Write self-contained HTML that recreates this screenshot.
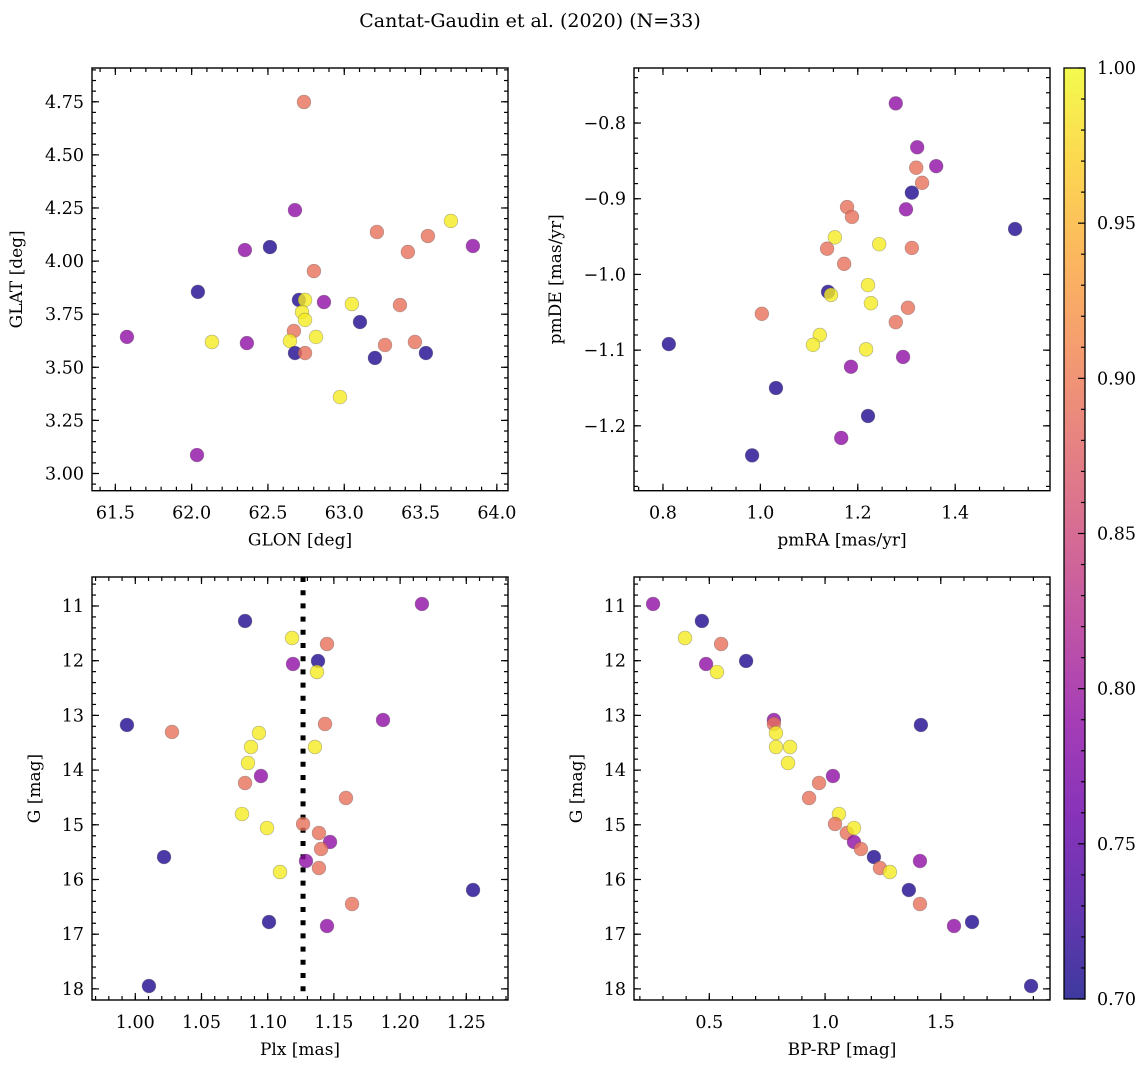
<!DOCTYPE html>
<html><head><meta charset="utf-8">
<style>
html,body{margin:0;padding:0;background:#fff;}
svg{display:block;font-family:"DejaVu Serif","Liberation Serif",serif;}
</style></head>
<body>
<svg id="fig" width="1148" height="1067" viewBox="0 0 1148 1067" xmlns="http://www.w3.org/2000/svg">
<defs>
<linearGradient id="plasma" x1="0" y1="1" x2="0" y2="0">
<stop offset="0" stop-color="#0d0887"/><stop offset="0.1" stop-color="#41049d"/><stop offset="0.2" stop-color="#6a00a8"/><stop offset="0.3" stop-color="#8f0da4"/><stop offset="0.4" stop-color="#b12a90"/><stop offset="0.5" stop-color="#cc4778"/><stop offset="0.6" stop-color="#e16462"/><stop offset="0.7" stop-color="#f2844b"/><stop offset="0.8" stop-color="#fca636"/><stop offset="0.9" stop-color="#fcce25"/><stop offset="1" stop-color="#f0f921"/>
</linearGradient>
</defs>
<text x="530" y="27" text-anchor="middle" font-size="19">Cantat-Gaudin et al. (2020) (N=33)</text>
</svg>
<script>
// ---- data ----
const glon = [61.576,62.035,62.041,62.133,62.349,62.362,62.513,62.677,62.736,62.703,62.743,62.723,62.743,62.670,62.644,62.677,62.743,62.801,62.815,62.867,62.972,63.050,63.103,63.214,63.267,63.201,63.365,63.417,63.548,63.535,63.463,63.699,63.843];
const glat = [3.643,3.087,3.855,3.619,4.052,3.614,4.066,4.240,4.749,3.817,3.817,3.760,3.723,3.671,3.624,3.567,3.567,3.953,3.643,3.807,3.360,3.798,3.713,4.137,3.605,3.544,3.793,4.043,4.118,3.567,3.619,4.189,4.071];
const prob1 = [0.79,0.79,0.71,0.99,0.79,0.79,0.71,0.79,0.89,0.71,0.99,0.99,0.99,0.89,0.99,0.71,0.89,0.89,0.99,0.79,0.99,0.99,0.71,0.89,0.89,0.71,0.89,0.89,0.89,0.71,0.89,0.99,0.79];

const pmra = [1.278,1.322,1.361,1.320,1.332,1.311,1.299,1.178,1.188,1.523,1.153,1.244,1.311,1.137,1.172,1.221,1.139,1.145,1.227,1.303,1.003,1.278,1.122,1.108,0.812,1.217,1.293,1.186,1.032,1.221,1.166,0.983];
const pmde = [-0.774,-0.832,-0.857,-0.859,-0.879,-0.892,-0.914,-0.911,-0.924,-0.940,-0.951,-0.960,-0.965,-0.966,-0.986,-1.014,-1.023,-1.027,-1.038,-1.044,-1.052,-1.063,-1.080,-1.093,-1.092,-1.099,-1.109,-1.122,-1.150,-1.187,-1.216,-1.239];
const prob2 = [0.79,0.79,0.79,0.89,0.89,0.71,0.79,0.89,0.89,0.71,0.99,0.99,0.89,0.89,0.89,0.99,0.71,0.99,0.99,0.89,0.89,0.89,0.99,0.99,0.71,0.99,0.79,0.79,0.71,0.71,0.79,0.71];

const plx = [1.0829,1.1184,1.1191,0.9937,1.0277,1.0934,1.0874,1.0851,1.0949,1.0829,1.0806,1.0995,1.1267,1.0217,1.1289,1.1093,1.1010,1.0103,1.2165,1.1448,1.1380,1.1372,1.1871,1.1433,1.1357,1.1591,1.1387,1.1471,1.1403,1.1387,1.2551,1.1637,1.1448];
const gmag3 = [11.274,11.585,12.060,13.175,13.303,13.322,13.578,13.870,14.108,14.236,14.803,15.059,14.985,15.589,15.662,15.863,16.777,17.947,10.963,11.695,12.005,12.207,13.084,13.157,13.578,14.510,15.150,15.314,15.442,15.790,16.192,16.448,16.850];
const prob3 = [0.71,0.99,0.79,0.71,0.89,0.99,0.99,0.99,0.79,0.89,0.99,0.99,0.89,0.71,0.79,0.99,0.71,0.71,0.79,0.89,0.71,0.99,0.79,0.89,0.99,0.89,0.89,0.79,0.89,0.89,0.71,0.89,0.79];
const plxLine = 1.1267;

const bprp = [0.257,0.468,0.395,0.551,0.486,0.659,0.533,0.779,0.779,0.788,0.788,0.849,0.840,1.034,0.974,0.931,1.060,1.043,1.414,1.094,1.125,1.125,1.155,1.211,1.237,1.280,1.410,1.362,1.410,1.557,1.635,1.890];
const gmag4 = [10.963,11.274,11.585,11.695,12.060,12.005,12.207,13.084,13.157,13.322,13.578,13.578,13.870,14.108,14.236,14.510,14.803,14.985,13.175,15.150,15.059,15.314,15.442,15.589,15.790,15.863,15.662,16.192,16.448,16.850,16.777,17.947];
const prob4 = [0.79,0.71,0.99,0.89,0.79,0.71,0.99,0.79,0.89,0.99,0.99,0.99,0.99,0.79,0.89,0.89,0.99,0.89,0.71,0.89,0.99,0.79,0.89,0.71,0.89,0.99,0.79,0.71,0.89,0.79,0.71,0.71];

const cbarTicks = [0.70,0.75,0.80,0.85,0.90,0.95,1.00];

// ---- helpers ----
const NS = 'http://www.w3.org/2000/svg';
const svg = document.getElementById('fig');
function mk(tag, attrs, parent){const e=document.createElementNS(NS,tag);for(const k in attrs)e.setAttribute(k,attrs[k]);(parent||svg).appendChild(e);return e;}
const stops=[[0,[13,8,135]],[0.1,[65,4,157]],[0.2,[106,0,168]],[0.3,[143,13,164]],[0.4,[177,42,144]],[0.5,[204,71,120]],[0.6,[225,100,98]],[0.7,[242,132,75]],[0.8,[252,166,54]],[0.9,[252,206,37]],[1,[240,249,33]]];
function plasma(v){let t=(v-0.7)/0.3;t=Math.max(0,Math.min(1,t));for(let i=1;i<stops.length;i++){if(t<=stops[i][0]){const a=stops[i-1],b=stops[i];const f=(t-a[0])/(b[0]-a[0]);const c=a[1].map((x,j)=>Math.round(x+(b[1][j]-x)*f));return 'rgb('+c.join(',')+')';}}return 'rgb(240,249,33)';}

function panel(cfg){
  const g=mk('g',{});
  
  
  const {L,R,T,B}=cfg;
  const sx=v=>L+(v-cfg.x0)/(cfg.x1-cfg.x0)*(R-L);
  const sy=v=>T+(v-cfg.y0)/(cfg.y1-cfg.y0)*(B-T);
  const tg=mk('g',{stroke:'#000','stroke-width':1.2},g);
  function ticksX(step,len){const s=Math.ceil(Math.min(cfg.x0,cfg.x1)/step-1e-6);for(let k=s;k*step<=Math.max(cfg.x0,cfg.x1)+1e-9;k++){const x=sx(k*step);mk('line',{x1:x,y1:B,x2:x,y2:B-len},tg);mk('line',{x1:x,y1:T,x2:x,y2:T+len},tg);}}
  function ticksY(step,len){const lo=Math.min(cfg.y0,cfg.y1),hi=Math.max(cfg.y0,cfg.y1);const s=Math.ceil(lo/step-1e-6);for(let k=s;k*step<=hi+1e-9;k++){const y=sy(k*step);mk('line',{x1:L,y1:y,x2:L+len,y2:y},tg);mk('line',{x1:R,y1:y,x2:R-len,y2:y},tg);}}
  ticksX(cfg.xminor,4);ticksX(cfg.xmajor,7);ticksY(cfg.yminor,4);ticksY(cfg.ymajor,7);
  cfg.xlabels.forEach(v=>{const t=mk('text',{x:sx(v),y:B+28,'text-anchor':'middle','font-size':17.5},g);t.textContent=v.toFixed(cfg.xdec);});
  cfg.ylabels.forEach(v=>{const t=mk('text',{x:L-8,y:sy(v)+6,'text-anchor':'end','font-size':17.5},g);t.textContent=(v<0?'\u2212':'')+Math.abs(v).toFixed(cfg.ydec);});
  const xl=mk('text',{x:(L+R)/2,y:B+55,'text-anchor':'middle','font-size':17},g);xl.textContent=cfg.xtitle;
  
  
  const yl=mk('text',{x:cfg.ytx,y:(T+B)/2,'text-anchor':'middle','font-size':17,transform:`rotate(-90 ${cfg.ytx} ${(T+B)/2})`},g);yl.textContent=cfg.ytitle;
  
  
  if(cfg.vline!==undefined){const ln=mk('line',{x1:sx(cfg.vline),x2:sx(cfg.vline),y1:T,y2:B,stroke:'#000','stroke-width':5,'stroke-dasharray':'5 8.2'},g);
    
    }
  cfg.xs.forEach((xv,i)=>{const c=mk('circle',{cx:sx(xv),cy:sy(cfg.ys[i]),r:6.9,fill:plasma(cfg.cs[i]),'fill-opacity':0.8,stroke:'#555','stroke-opacity':0.45,'stroke-width':0.6},g);
    
    });
  const fr=mk('rect',{x:L,y:T,width:R-L,height:B-T,fill:'none',stroke:'#000','stroke-width':1.4},g);
  
  
}

panel({name:'glon-glat-panel',L:92,R:508,T:68,B:490.7,x0:61.347,x1:64.073,y0:4.909,y1:2.919,xmajor:0.5,xminor:0.1,ymajor:0.25,yminor:0.05,
  xlabels:[61.5,62.0,62.5,63.0,63.5,64.0],xdec:1,ylabels:[3.00,3.25,3.50,3.75,4.00,4.25,4.50,4.75],ydec:2,xtitle:'GLON [deg]',ytitle:'GLAT [deg]',ytx:22,xs:glon,ys:glat,cs:prob1});
panel({name:'pmra-pmde-panel',L:634,R:1050,T:68,B:490.7,x0:0.7405,x1:1.5947,y0:-0.7273,y1:-1.2857,xmajor:0.2,xminor:0.05,ymajor:0.1,yminor:0.02,
  xlabels:[0.8,1.0,1.2,1.4],xdec:1,ylabels:[-0.8,-0.9,-1.0,-1.1,-1.2],ydec:1,xtitle:'pmRA [mas/yr]',ytitle:'pmDE [mas/yr]',ytx:561,xs:pmra,ys:pmde,cs:prob2});
panel({name:'plx-g-panel',L:92,R:508,T:577,B:1000,x0:0.9673,x1:1.2815,y0:10.470,y1:18.203,xmajor:0.05,xminor:0.01,ymajor:1,yminor:0.2,
  xlabels:[1.00,1.05,1.10,1.15,1.20,1.25],xdec:2,ylabels:[11,12,13,14,15,16,17,18],ydec:0,xtitle:'Plx [mas]',ytitle:'G [mag]',ytx:40,xs:plx,ys:gmag3,cs:prob3,vline:plxLine});
panel({name:'cmd-panel',L:634,R:1050,T:577,B:1000,x0:0.1747,x1:1.9717,y0:10.470,y1:18.203,xmajor:0.5,xminor:0.1,ymajor:1,yminor:0.2,
  xlabels:[0.5,1.0,1.5],xdec:1,ylabels:[11,12,13,14,15,16,17,18],ydec:0,xtitle:'BP-RP [mag]',ytitle:'G [mag]',ytx:582,xs:bprp,ys:gmag4,cs:prob4});

// colorbar
const cb=mk('g',{});


const cT=68,cB=999,cL=1064,cR=1085;
const cy=v=>cB-(v-0.7)/0.3*(cB-cT);
mk('rect',{x:cL,y:cT,width:cR-cL,height:cB-cT,fill:'url(#plasma)','fill-opacity':0.8},cb);
for(let k=70;k<=100;k++){const y=cy(k/100);const len=(k%5===0)?7:4;mk('line',{x1:cR,x2:cR-len,y1:y,y2:y,stroke:'#000','stroke-width':1.2},cb);}
cbarTicks.forEach(v=>{const t=mk('text',{x:1097,y:cy(v)+6,'font-size':17.5},cb);t.textContent=v.toFixed(2);
  
  });
mk('rect',{x:cL,y:cT,width:cR-cL,height:cB-cT,fill:'none',stroke:'#000','stroke-width':1.3},cb);
</script>
</body></html>
